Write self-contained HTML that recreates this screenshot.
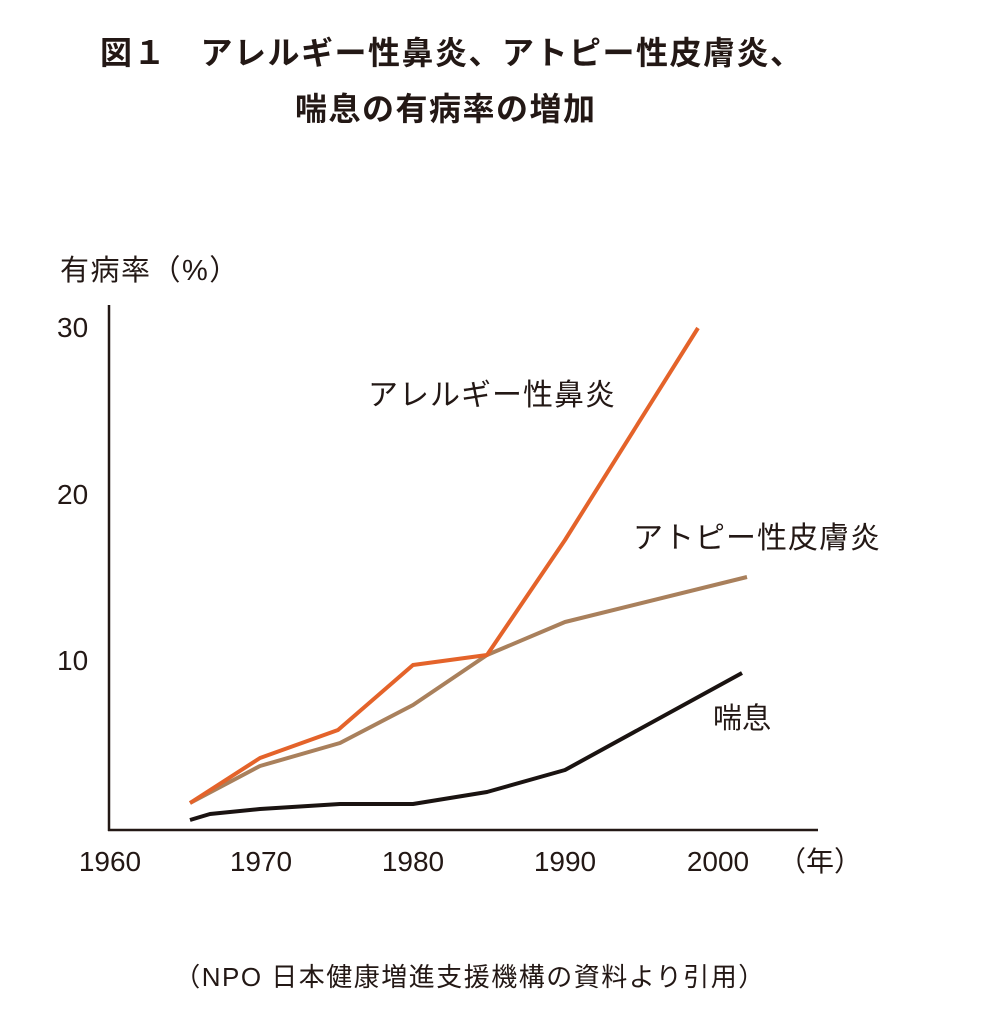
<!DOCTYPE html>
<html><head><meta charset="utf-8"><style>
html,body{margin:0;padding:0;background:#fff;}
body{width:988px;height:1024px;overflow:hidden;}
svg text{font-family:"Liberation Sans","Noto Sans CJK JP",sans-serif;fill:#231815;}
</style></head><body>
<svg width="988" height="1024" viewBox="0 0 988 1024" xmlns="http://www.w3.org/2000/svg">
<text x="100" y="64" font-size="32" font-weight="bold" letter-spacing="1.5">図１　アレルギー性鼻炎、アトピー性皮膚炎、</text>
<text x="295" y="120" font-size="32" font-weight="bold" letter-spacing="1.5">喘息の有病率の増加</text>
<text x="60" y="280" font-size="29" letter-spacing="1.5">有病率（%）</text>
<text x="57" y="337" font-size="28">30</text>
<text x="57" y="504" font-size="28">20</text>
<text x="57" y="670" font-size="28">10</text>
<line x1="109" y1="305" x2="109" y2="831" stroke="#231815" stroke-width="2.5"/>
<line x1="108" y1="830" x2="818" y2="830" stroke="#231815" stroke-width="2.5"/>
<text x="110" y="871" font-size="28" text-anchor="middle">1960</text>
<text x="261" y="871" font-size="28" text-anchor="middle">1970</text>
<text x="413" y="871" font-size="28" text-anchor="middle">1980</text>
<text x="565" y="871" font-size="28" text-anchor="middle">1990</text>
<text x="718" y="871" font-size="28" text-anchor="middle">2000</text>
<text x="778" y="871" font-size="28">（年）</text>
<polyline fill="none" stroke="#a9805c" stroke-width="4" stroke-linejoin="round" points="190,803 260,766 340,743 413,705 487,655 565,622 747,577"/>
<polyline fill="none" stroke="#e4632a" stroke-width="4" stroke-linejoin="round" points="190,803 260,758 338,730 413,665 487,655 565,540 698,328"/>
<polyline fill="none" stroke="#1a1311" stroke-width="4" stroke-linejoin="round" points="190,820 210,814 260,809 340,804 413,804 487,792 565,770 742,673"/>
<text x="368" y="405" font-size="30" letter-spacing="1">アレルギー性鼻炎</text>
<text x="633" y="548" font-size="30" letter-spacing="1">アトピー性皮膚炎</text>
<text x="713" y="728" font-size="29">喘息</text>
<text x="470" y="986" font-size="26" text-anchor="middle" letter-spacing="1.5">（NPO 日本健康増進支援機構の資料より引用）</text>
</svg>
</body></html>
